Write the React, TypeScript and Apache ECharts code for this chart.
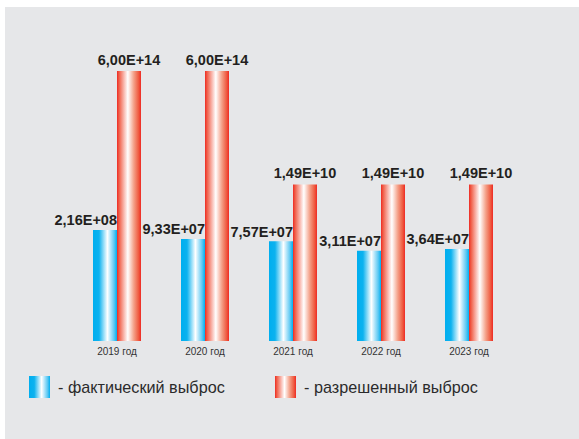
import React, { useEffect, useRef } from "react";
import * as echarts from "echarts";

const categories = ["2019 год", "2020 год", "2021 год", "2022 год", "2023 год"];
const actualValues = [2.16e8, 9.33e7, 7.57e7, 3.11e7, 3.64e7];
const permittedValues = [6.0e14, 6.0e14, 1.49e10, 1.49e10, 1.49e10];
const seriesNames = ["фактический выброс", "разрешенный выброс"];

function fmt(v: number): string {
  const exp = Math.floor(Math.log10(v));
  const mant = v / Math.pow(10, exp);
  const e = (exp < 10 ? "0" : "") + exp;
  return mant.toFixed(2).replace(".", ",") + "E+" + e;
}

const blueGrad = new echarts.graphic.LinearGradient(0, 0, 1, 0, [
  { offset: 0, color: "#00aeef" },
  { offset: 0.25, color: "#0cb2ef" },
  { offset: 0.6, color: "#ffffff" },
  { offset: 0.88, color: "#5cc8f3" },
  { offset: 1, color: "#00aeef" },
]);
const redGrad = new echarts.graphic.LinearGradient(0, 0, 1, 0, [
  { offset: 0, color: "#ee2a24" },
  { offset: 0.08, color: "#f05a44" },
  { offset: 0.45, color: "#ffffff" },
  { offset: 0.7, color: "#f4a088" },
  { offset: 0.9, color: "#ef5a40" },
  { offset: 1, color: "#ee2a24" },
]);

const valueFont = "'Liberation Sans Narrow', 'Liberation Sans', Arial, sans-serif";
const textFont = "'Liberation Sans', Arial, sans-serif";

export default function App() {
  const ref = useRef<HTMLDivElement>(null);
  useEffect(() => {
    document.body.style.margin = "0";
    const chart = echarts.init(ref.current!, undefined, { renderer: "svg" });
    const legendBase = {
      orient: "horizontal",
      top: 376,
      padding: 0,
      itemWidth: 21,
      itemHeight: 22,
      icon: "rect",
      formatter: (n: string) => "- " + n,
      textStyle: {
        fontFamily: textFont,
        fontSize: 16.2,
        color: "#2b2b2b",
        padding: [0, 0, 0, 3],
      },
    };
    chart.setOption({
      animation: false,
      backgroundColor: "#ffffff",
      graphic: [
        {
          type: "rect",
          z: -1,
          silent: true,
          shape: { x: 5, y: 7, width: 574, height: 432 },
          style: { fill: "#e6e7e9" },
        },
      ],
      legend: [
        { ...legendBase, left: 29, data: [seriesNames[0]] },
        { ...legendBase, left: 275, data: [seriesNames[1]] },
      ],
      grid: { left: 73, width: 440, top: 71, height: 270, containLabel: false },
      xAxis: {
        type: "category",
        data: categories,
        axisLine: { show: false },
        axisTick: { show: false },
        axisLabel: {
          fontFamily: textFont,
          fontSize: 10,
          color: "#333333",
          margin: 5,
        },
      },
      yAxis: {
        type: "log",
        logBase: 10,
        min: 6760,
        max: 6e14,
        show: false,
        splitLine: { show: false },
      },
      series: [
        {
          name: seriesNames[0],
          type: "bar",
          data: actualValues,
          barWidth: 24,
          barGap: "0%",
          itemStyle: { color: blueGrad },
          label: {
            show: true,
            position: [24, -2],
            align: "right",
            verticalAlign: "bottom",
            formatter: (p: any) => fmt(p.value),
            fontFamily: valueFont,
            fontWeight: "bold",
            fontSize: 14.5,
            color: "#231f20",
          },
        },
        {
          name: seriesNames[1],
          type: "bar",
          data: permittedValues,
          barWidth: 24,
          barGap: "0%",
          itemStyle: { color: redGrad },
          label: {
            show: true,
            position: "top",
            distance: 4,
            formatter: (p: any) => fmt(p.value),
            fontFamily: valueFont,
            fontWeight: "bold",
            fontSize: 14.5,
            color: "#231f20",
          },
        },
      ],
    });
    return () => chart.dispose();
  }, []);
  return <div ref={ref} style={{ width: 579, height: 439 }} />;
}
